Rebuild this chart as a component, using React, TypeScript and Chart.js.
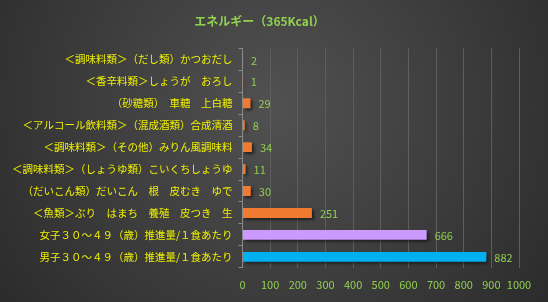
import React, { useEffect, useRef } from "react";
import { Chart, registerables } from "chart.js";

Chart.register(...registerables);

const TITLE = "エネルギー（365Kcal）";
const categories = [
  "＜調味料類＞（だし類）かつおだし",
  "＜香辛料類＞しょうが　おろし",
  "（砂糖類）　車糖　上白糖",
  "＜アルコール飲料類＞（混成酒類）合成清酒",
  "＜調味料類＞（その他）みりん風調味料",
  "＜調味料類＞（しょうゆ類）こいくちしょうゆ",
  "（だいこん類）だいこん　根　皮むき　ゆで",
  "＜魚類＞ぶり　はまち　養殖　皮つき　生",
  "女子３０～４９（歳）推進量/１食あたり",
  "男子３０～４９（歳）推進量/１食あたり",
];
const values = [2, 1, 29, 8, 34, 11, 30, 251, 666, 882];
const barColors = [
  "#f07a30", "#f07a30", "#f07a30", "#f07a30", "#f07a30",
  "#f07a30", "#f07a30", "#f07a30", "#cc99ff", "#00b0f0",
];
const xTicksMin = 0;
const xTicksMax = 1000;
const xTicksStep = 100;

const FONT = "'Noto Sans CJK JP', 'Noto Sans', sans-serif";

const bgPlugin = {
  id: "bg",
  beforeDraw(chart: any) {
    const { ctx, width, height } = chart;
    ctx.save();
    const g = ctx.createRadialGradient(width * 0.5, height * 0.35, 10, width * 0.5, height * 0.35, width * 0.62);
    g.addColorStop(0, "#505050");
    g.addColorStop(1, "#2b2b2b");
    ctx.fillStyle = g;
    ctx.fillRect(0, 0, width, height);
    ctx.restore();
  },
};

const shadowPlugin = {
  id: "barShadow",
  beforeDatasetsDraw(chart: any) {
    const { ctx } = chart;
    ctx.save();
    ctx.shadowColor = "rgba(0,0,0,0.55)";
    ctx.shadowBlur = 3;
    ctx.shadowOffsetX = 2;
    ctx.shadowOffsetY = 2;
  },
  afterDatasetsDraw(chart: any) {
    chart.ctx.restore();
  },
};

const labelPlugin = {
  id: "valueLabels",
  afterDatasetsDraw(chart: any) {
    const { ctx } = chart;
    const meta = chart.getDatasetMeta(0);
    ctx.save();
    ctx.font = `11px ${FONT}`;
    ctx.fillStyle = "#92d050";
    ctx.textAlign = "left";
    ctx.textBaseline = "middle";
    meta.data.forEach((bar: any, i: number) => {
      ctx.fillText(String(values[i]), bar.x + 8, bar.y + 1);
    });
    ctx.restore();
  },
};

export default function App() {
  const ref = useRef<HTMLCanvasElement | null>(null);
  useEffect(() => {
    document.body.style.margin = "0";
    const chart = new Chart(ref.current!, {
      type: "bar",
      data: {
        labels: categories,
        datasets: [
          {
            data: values,
            backgroundColor: barColors,
            barPercentage: 0.9,
            categoryPercentage: 0.5,
          },
        ],
      },
      options: {
        indexAxis: "y",
        animation: false,
        responsive: false,
        layout: { padding: { left: 0, right: 29, top: 0, bottom: 1 } },
        plugins: {
          legend: { display: false },
          tooltip: { enabled: false },
          title: {
            display: true,
            text: TITLE,
            color: "#92d050",
            font: { family: FONT, size: 12, weight: "bold" },
            padding: { top: 14, bottom: 20 },
          },
        },
        scales: {
          x: {
            min: xTicksMin,
            max: xTicksMax,
            ticks: {
              stepSize: xTicksStep,
              color: "#92d050",
              font: { family: FONT, size: 11 },
              padding: 10,
              maxRotation: 0,
              minRotation: 0,
              autoSkip: false,
              callback: (v: any) => String(v),
            },
            grid: {
              color: "#5e5e5e",
              lineWidth: 1,
              drawTicks: false,
            },
            border: { display: false },
          },
          y: {
            afterFit(scale: any) {
              scale.width = 242.5;
            },
            ticks: {
              color: "#f0f000",
              font: { family: FONT, size: 10.5 },
              padding: 6,
              autoSkip: false,
            },
            grid: {
              offset: true,
              drawOnChartArea: false,
              color: "#8a8a8a",
              tickLength: 4,
            },
            border: { display: true, color: "#8a8a8a" },
          },
        },
      },
      plugins: [bgPlugin, shadowPlugin, labelPlugin],
    });
    return () => chart.destroy();
  }, []);
  return <canvas ref={ref} width={548} height={302} style={{ display: "block" }} />;
}
